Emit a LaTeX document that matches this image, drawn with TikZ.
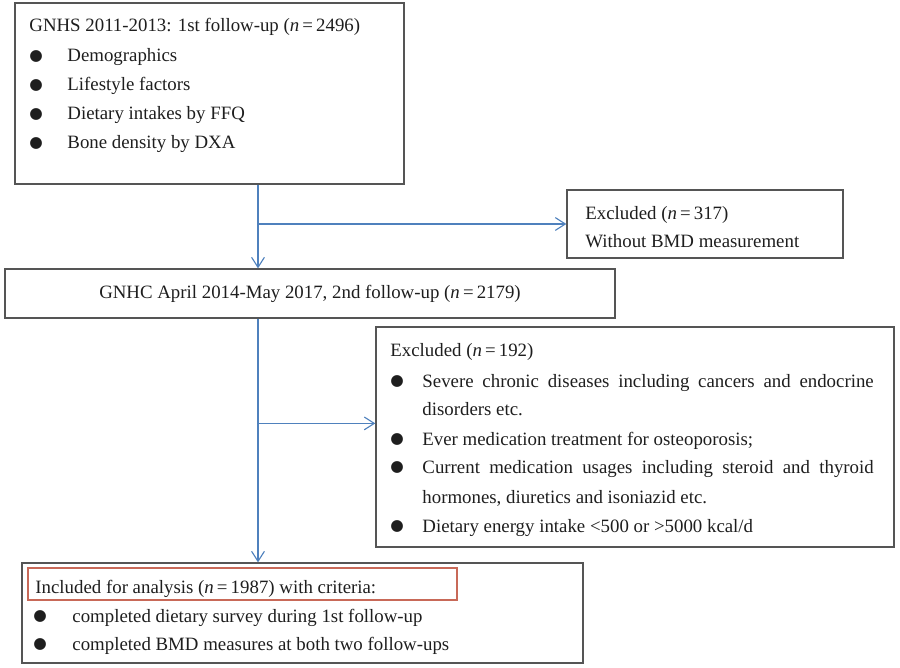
\documentclass[tikz,border=0pt]{standalone}
\usepackage{fontspec}
\setmainfont{Liberation Serif}
\newfontfamily\dejavu{DejaVu Sans}
\usepackage{tikz}
\usetikzlibrary{arrows.meta}

\definecolor{boxgray}{RGB}{85,85,85}
\definecolor{flowblue}{RGB}{79,129,189}
\definecolor{incred}{RGB}{200,105,88}
\definecolor{inkgray}{RGB}{30,30,30}

% bullet followed by a gap up to the text
\newcommand{\bul}[1]{\makebox[#1][l]{\raisebox{0.8pt}{\dejavu\fontsize{11}{11}\selectfont ●}}}

\begin{document}
\begin{tikzpicture}[x=0.025cm, y=-0.025cm, semithick, >={Straight Barb[length=2.5mm,width=3.2mm]},
    box/.style={draw=boxgray, line width=0.9pt, inner sep=0pt},
    txt/.style={anchor=base west, inner sep=0pt, text=inkgray},
    flow/.style={draw=flowblue, line width=0.8pt}]
  \useasboundingbox (0,0) rectangle (900,668);
  \fontsize{13.4}{16}\selectfont

  % boxes
  \node [box, minimum width=9.725cm, minimum height=4.525cm]  (b1) at (209.5,93.5) {};
  \node [box, minimum width=6.9cm, minimum height=1.7cm]      (b2) at (705,224) {};
  \node [box, minimum width=15.25cm, minimum height=1.225cm, text=inkgray] (b3) at (310,293.5)
    {GNHC April 2014-May 2017, 2nd follow-up (\textit{n}\,=\,2179)};
  \node [box, minimum width=12.95cm, minimum height=5.5cm]    (b4) at (635,437) {};
  \node [box, minimum width=14.025cm, minimum height=2.5cm]   (b5) at (302.5,613) {};
  \node [draw=incred, line width=1pt, inner sep=0pt, minimum width=10.725cm, minimum height=0.8cm] (inc) at (242.5,584) {};

  % first follow-up
  \node [txt] (h1) at (29,32) {GNHS 2011-2013: 1st follow-up (\textit{n}\,=\,2496)};
  \node [txt] (d1) at (29,62)  {\bul{0.95cm}Demographics};
  \node [txt] (d2) at (29,91)  {\bul{0.95cm}Lifestyle factors};
  \node [txt] (d3) at (29,120) {\bul{0.95cm}Dietary intakes by FFQ};
  \node [txt] (d4) at (29,149) {\bul{0.95cm}Bone density by DXA};

  % first exclusion
  \node [txt] (h2) at (585,220) {Excluded (\textit{n}\,=\,317)};
  \node [txt] (x1) at (585,248) {Without BMD measurement};

  % second exclusion
  \node [txt] (h4) at (390,357) {Excluded (\textit{n}\,=\,192)};
  \node [txt] (e1) at (390,387) {\bul{0.8cm}\makebox[11.28cm][s]{Severe chronic diseases including cancers and endocrine}};
  \node [txt] (e2) at (422,415) {disorders etc.};
  \node [txt] (e3) at (390,445) {\bul{0.8cm}Ever medication treatment for osteoporosis;};
  \node [txt] (e4) at (390,473) {\bul{0.8cm}\makebox[11.28cm][s]{Current medication usages including steroid and thyroid}};
  \node [txt] (e5) at (422,503) {hormones, diuretics and isoniazid etc.};
  \node [txt] (e6) at (390,532) {\bul{0.8cm}Dietary energy intake <500 or >5000 kcal/d};

  % included
  \node [txt] (h5) at (35,593) {Included for analysis (\textit{n}\,=\,1987) with criteria:};
  \node [txt] (c1) at (33,622) {\bul{0.975cm}completed dietary survey during 1st follow-up};
  \node [txt] (c2) at (33,650) {\bul{0.975cm}completed BMD measures at both two follow-ups};

  % flow lines
  \coordinate (trunk) at (258,0);
  \draw [flow, ->] (b1.south -| trunk) -- (b3.north -| trunk);
  \draw [flow, ->] (trunk |- b2.west) -- (b2.west);
  \draw [flow, ->] (b3.south -| trunk) -- (b5.north -| trunk);
  \coordinate (br) at ([yshift=0.34cm]b4.west);
  \draw [flow, ->] (trunk |- br) -- (br);
\end{tikzpicture}
\end{document}
